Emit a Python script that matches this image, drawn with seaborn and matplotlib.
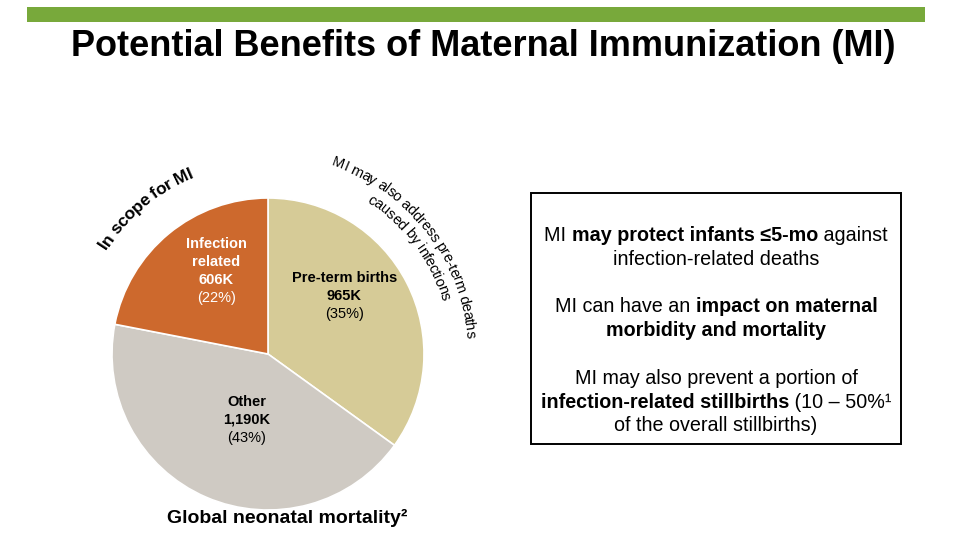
import numpy as np
import matplotlib
matplotlib.use("Agg")
import matplotlib.pyplot as plt
from matplotlib.patches import Rectangle
import seaborn as sns

# -------------------------
# Data
# -------------------------
categories = ["Pre-term births", "Other", "Infection\nrelated"]
deaths_k = [965, 1190, 606]
share_pct = [35, 43, 22]

title = "Potential Benefits of Maternal Immunization (MI)"
pie_caption = "Global neonatal mortality\u00b2"
scope_note = "In scope for MI"
preterm_note = ["MI may also address pre-term deaths", "caused by infections"]

# right-hand box, each line is a list of (text, bold)
box_lines = [
    [("MI ", False), ("may protect infants \u22645-mo", True), (" against", False)],
    [("infection-related deaths", False)],
    None,
    [("MI can have an ", False), ("impact on maternal", True)],
    [("morbidity and mortality", True)],
    None,
    [("MI may also prevent a portion of", False)],
    [("infection-related stillbirths", True), (" (10 \u2013 50%\u00b9", False)],
    [("of the overall stillbirths)", False)],
]

# -------------------------
# Styling
# -------------------------
slice_colors = ["#D6CB97", "#CFCAC3", "#CD692D"]
label_colors = ["black", "black", "white"]
label_xy = [(0.49, 0.37), (-0.135, -0.42), (-0.33, 0.535)]  # block centres, pie units
GREEN = "#78A93B"
W, H = 967, 560

sns.set_style("white")
plt.rcParams['font.family'] = ['Liberation Sans', 'DejaVu Sans']
plt.rcParams['text.color'] = 'black'

fig = plt.figure(figsize=(W / 100, H / 100), dpi=100)
fig.patch.set_facecolor("white")


def fx(px):
    return px / W


def fy(py):
    return 1 - py / H


# green header bar + title
fig.patches.append(Rectangle((fx(27), fy(22)), fx(925) - fx(27), 15 / H,
                             transform=fig.transFigure, color=GREEN, lw=0))
fig.text(fx(483), fy(47), title, ha='center', va='center',
         fontsize=26, fontweight='bold')

# -------------------------
# Pie
# -------------------------
cx, cy, R = 268, 354, 156
ax = fig.add_axes([fx(cx - R), (H - cy - R) / H, 2 * R / W, 2 * R / H])
ax.pie(deaths_k, colors=slice_colors, startangle=90, counterclock=False,
       wedgeprops=dict(edgecolor='white', linewidth=1.2))
ax.set_xlim(-1, 1)
ax.set_ylim(-1, 1)
ax.set_aspect('equal')
ax.axis('off')

lh = 18 / R  # line height in pie units
for name, val, pct, (lx, ly), col in zip(categories, deaths_k, share_pct, label_xy, label_colors):
    lines = name.split("\n") + [f"{val:,}K"]
    n = len(lines) + 1
    top = ly + (n - 1) / 2 * lh
    for i, s in enumerate(lines):
        ax.text(lx, top - i * lh, s, ha='center', va='center', fontsize=10.5,
                fontweight='bold', color=col)
    ax.text(lx, top - len(lines) * lh, f"({pct}%)", ha='center', va='center',
            fontsize=10.5, color=col)

fig.canvas.draw()
renderer = fig.canvas.get_renderer()


def advance(s, size, weight):
    # horizontal advance in pixels (keeps spaces)
    t1 = fig.text(0, 0, "x" + s + "x", fontsize=size, fontweight=weight)
    t2 = fig.text(0, 0, "xx", fontsize=size, fontweight=weight)
    w = t1.get_window_extent(renderer).width - t2.get_window_extent(renderer).width
    t1.remove()
    t2.remove()
    return w


def arc_text(s, r, mid_deg, size, weight='normal', track=1.0):
    # write text clockwise along a circle round the pie centre
    widths = [advance(ch, size, weight) * track for ch in s]
    total = sum(widths) / R / r
    ang = np.radians(mid_deg) + total / 2
    for ch, w in zip(s, widths):
        a = ang - (w / 2) / R / r
        ax.text(r * np.cos(a), r * np.sin(a), ch, ha='center', va='center',
                rotation=np.degrees(a) - 90, rotation_mode='anchor',
                fontsize=size, fontweight=weight)
        ang -= w / R / r


arc_text(scope_note, 1.26, 130, 12.5, 'bold', track=0.97)
arc_text(preterm_note[0], 1.30, 38, 10.5, track=0.97)
arc_text(preterm_note[1], 1.19, 37, 10.5, track=0.97)

fig.text(fx(287), fy(518), pie_caption, ha='center', va='center',
         fontsize=14, fontweight='bold')

# -------------------------
# Text box
# -------------------------
fig.patches.append(Rectangle((fx(531), fy(444)), fx(901) - fx(531), 251 / H,
                             transform=fig.transFigure, fill=False,
                             edgecolor='black', lw=1.4))

box_size = 14.2
base_y = 241
line_step = 23.8
for i, line in enumerate(box_lines):
    if line is None:
        continue
    yb = base_y + i * line_step
    widths = [advance(s, box_size, 'bold' if b else 'normal') for s, b in line]
    x = 716 - sum(widths) / 2
    for (s, b), w in zip(line, widths):
        fig.text(fx(x), fy(yb), s, ha='left', va='baseline', fontsize=box_size,
                 fontweight='bold' if b else 'normal')
        x += w

fig.savefig("out.png", dpi=100, facecolor="white")
